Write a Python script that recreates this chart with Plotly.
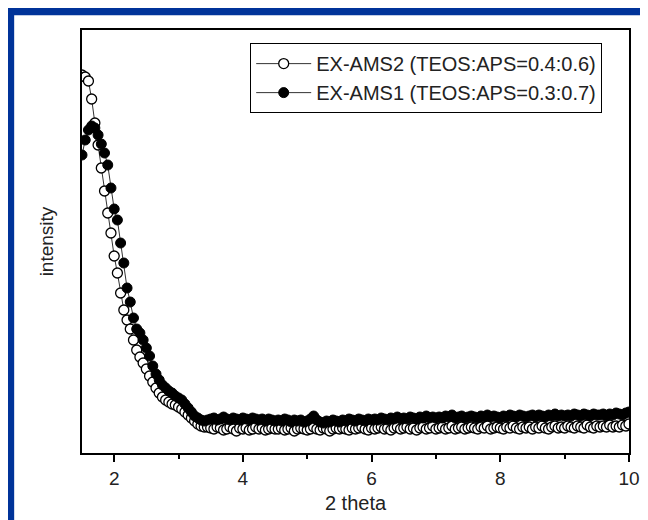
import plotly.graph_objects as go

# 2 theta from 1.5 to 10 in 0.05 steps
two_theta = [round(1.5 + 0.05 * i, 2) for i in range(171)]

# EX-AMS2 (open circles), arbitrary intensity
ams2 = [
    378, 376, 372, 354, 330, 308, 285, 262, 240, 220,
    197, 180, 160, 143, 133, 124, 113, 103, 96, 90,
    84, 77, 71, 65, 60, 56, 53, 51, 49, 48,
    46, 44, 41, 38, 35, 32, 29, 27, 26,
    26, 25, 24, 26, 25, 23, 24, 26, 24, 22, 25, 24,
    25, 23, 24, 26, 24, 25, 23, 24, 25, 24,
    24, 25, 23, 24, 25, 22, 24, 25, 24, 23,
    24, 26, 24, 23, 25, 24, 22, 24, 25, 24,
    25, 24, 23, 25, 24, 25, 26, 24, 23, 25,
    24, 25, 26, 24, 25, 23, 25, 26, 24, 25,
    26, 24, 25, 23, 25, 26, 24, 25, 27, 24,
    25, 26, 24, 25, 27, 24, 25, 26, 24, 25,
    26, 25, 24, 26, 25, 27, 24, 25, 26, 25,
    24, 26, 25, 27, 25, 24, 26, 25, 26, 24,
    26, 25, 27, 25, 24, 26, 27, 25, 26, 25,
    27, 26, 25, 27, 26, 25, 28, 26, 25, 27,
    26, 27, 26, 28, 26, 27, 26, 28, 27, 29,
]

# EX-AMS1 (filled circles)
ams1 = [
    298, 313, 323, 327, 325, 318, 309, 300, 288, 265,
    244, 233, 210, 190, 165, 151, 135, 124, 120, 113,
    105, 97, 87, 79, 73, 68, 65, 62, 60, 57,
    55, 53, 49, 45, 41, 37, 35, 33, 32,
    33, 34, 35, 33, 34, 36, 34, 33, 35, 34, 33, 35,
    34, 33, 35, 34, 33, 34, 32, 34, 33, 32,
    33, 32, 34, 33, 31, 33, 32, 33, 31, 32,
    34, 37, 33, 31, 30, 32, 31, 33, 32, 31,
    33, 32, 34, 33, 32, 34, 33, 32, 34, 33,
    34, 33, 35, 34, 33, 35, 34, 36, 34, 35,
    34, 36, 35, 34, 36, 35, 37, 35, 36, 35,
    36, 35, 37, 36, 38, 35, 36, 37, 35, 36,
    37, 36, 35, 37, 36, 38, 36, 37, 36, 35,
    37, 36, 38, 37, 36, 38, 37, 36, 37, 38,
    36, 38, 37, 36, 38, 37, 39, 37, 38, 37,
    38, 37, 39, 38, 37, 39, 38, 37, 39, 38,
    38, 39, 37, 39, 38, 40, 39, 38, 40, 41,
]

names = ["EX-AMS2 (TEOS:APS=0.4:0.6)", "EX-AMS1 (TEOS:APS=0.3:0.7)"]

fig = go.Figure()

fig.add_trace(go.Scatter(
    x=two_theta, y=ams2, name=names[0], mode="lines+markers",
    line=dict(color="#333333", width=1),
    marker=dict(symbol="circle", size=10, color="white",
                line=dict(color="black", width=1.3)),
))
fig.add_trace(go.Scatter(
    x=two_theta, y=ams1, name=names[1], mode="lines+markers",
    line=dict(color="#333333", width=1),
    marker=dict(symbol="circle", size=10, color="black",
                line=dict(color="black", width=1)),
))

# white slide panel over the blue background
fig.add_shape(type="rect", xref="paper", yref="paper",
              x0=-0.124, x1=1.2, y0=-0.4, y1=1.035,
              fillcolor="white", line_width=0, layer="below")

fig.update_layout(
    width=648, height=520,
    paper_bgcolor="#003399",
    plot_bgcolor="white",
    margin=dict(l=74, r=27, t=22, b=75),
    font=dict(family="Liberation Sans, Arial, sans-serif", color="#222222", size=19),
    legend=dict(
        x=0.951, y=0.969, xanchor="right", yanchor="top",
        bgcolor="white", bordercolor="black", borderwidth=1,
        font=dict(size=20), itemwidth=55, tracegroupgap=0,
    ),
    xaxis=dict(
        range=[1.5, 10], tick0=0, dtick=2,
        ticks="outside", ticklen=7, tickwidth=1.5, tickcolor="black",
        minor=dict(ticks="outside", ticklen=4, dtick=1, tickwidth=1.5, tickcolor="black"),
        showline=True, linecolor="black", linewidth=1.5, mirror=True,
        showgrid=False, zeroline=False,
        tickfont=dict(size=19),
        title=dict(text="2 theta", font=dict(size=20), standoff=8),
    ),
    yaxis=dict(
        range=[0, 423],
        showticklabels=False, ticks="",
        showline=True, linecolor="black", linewidth=1.5, mirror=True,
        showgrid=False, zeroline=False,
        title=dict(text="intensity", font=dict(size=19), standoff=22),
    ),
)

fig.write_html("out.html")
